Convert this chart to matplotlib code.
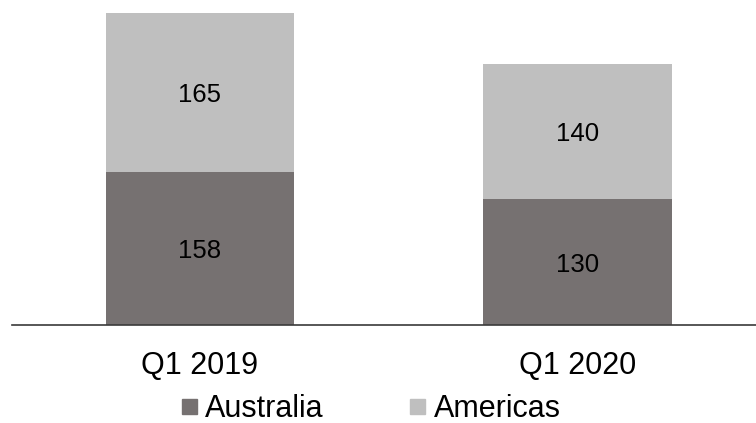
import matplotlib.pyplot as plt
from matplotlib.lines import Line2D
import numpy as np

plt.rcParams['font.family'] = ['Liberation Sans', 'DejaVu Sans']

quarters = ['Q1 2019', 'Q1 2020']
australia = [158, 130]
americas = [165, 140]

dark = '#767171'
light = '#bfbfbf'


def main():
    fig = plt.figure(figsize=(7.56, 4.23), dpi=100)
    ax = fig.add_axes([12 / 756, 1 - 325 / 423, 1 - 12 / 756, 325 / 423])

    x = np.arange(len(quarters))
    b1 = ax.bar(x, australia, width=0.5, color=dark)
    b2 = ax.bar(x, americas, width=0.5, bottom=australia, color=light)

    for bars, vals, bottoms in [(b1, australia, [0, 0]), (b2, americas, australia)]:
        for rect, v, b in zip(bars, vals, bottoms):
            ax.text(rect.get_x() + rect.get_width() / 2, b + v / 2, str(v),
                    ha='center', va='center_baseline', fontsize=18.5, color='black')

    ax.set_xlim(-0.498, 1.473)
    ax.set_ylim(0, 336)
    ax.set_xticks(x)
    ax.set_xticklabels(quarters, fontsize=22)
    ax.tick_params(axis='x', length=0, pad=19)
    ax.set_yticks([])
    for side in ['top', 'right', 'left']:
        ax.spines[side].set_visible(False)
    ax.spines['bottom'].set_color('#3a3a3a')
    ax.spines['bottom'].set_linewidth(1.2)

    handles = [Line2D([], [], marker='s', linestyle='none', markersize=10.8,
                      markerfacecolor=c, markeredgecolor=c) for c in [dark, light]]
    fig.legend(handles, ['Australia', 'Americas'], loc='center',
               bbox_to_anchor=(371 / 756, 1 - 409 / 423), ncol=2, frameon=False,
               fontsize=22, handlelength=0.5, handletextpad=0.3, columnspacing=2.8,
               borderpad=0, borderaxespad=0)

    fig.savefig('out.png', dpi=100)


if __name__ == '__main__':
    main()
